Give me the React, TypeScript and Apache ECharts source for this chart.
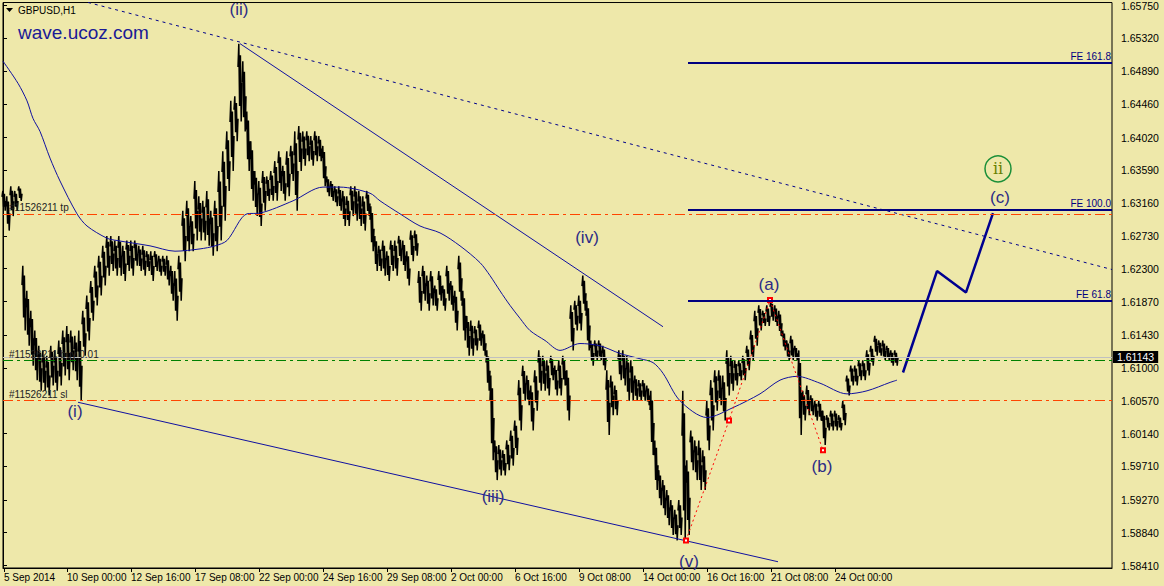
import React, { useEffect, useRef } from "react";
import * as echarts from "echarts";

const BG = "#EEE8AA";
const FONT = "Liberation Sans, Arial, sans-serif";
const WAVE = "#2b2b85";
const NAVY = "#00008b";

// x axis: hour index (1 H1 bar per hour of trading)
const X_TICKS = [1, 64, 128, 192, 256, 320, 384, 448, 512, 576, 640, 704, 768, 832];
const X_LABELS = [
  "5 Sep 2014", "10 Sep 00:00", "12 Sep 16:00", "17 Sep 08:00", "22 Sep 00:00",
  "24 Sep 16:00", "29 Sep 08:00", "2 Oct 00:00", "6 Oct 16:00", "9 Oct 08:00",
  "14 Oct 00:00", "16 Oct 16:00", "21 Oct 08:00", "24 Oct 00:00",
];
const Y_TICKS = [
  1.6575, 1.6532, 1.6489, 1.6446, 1.6402, 1.6359, 1.6316, 1.6273, 1.623, 1.6187,
  1.6143, 1.61, 1.6057, 1.6014, 1.5971, 1.5927, 1.5884, 1.5841,
];

// aggregated price bars (every 4 hours), high and low
const BAR_START = 1;
const BAR_STEP = 4;
const HIGH = [
  1.6332, 1.6325, 1.6338, 1.6332, 1.6338, 1.6234, 1.6201, 1.6175,
  1.6149, 1.6129, 1.6123, 1.6116, 1.6129, 1.6123, 1.6136, 1.6149,
  1.6155, 1.6149, 1.6142, 1.6149, 1.6175, 1.6195, 1.6214, 1.6234,
  1.6247, 1.626, 1.6273, 1.6273, 1.6267, 1.6273, 1.626, 1.6267,
  1.6267, 1.6267, 1.626, 1.626, 1.6253, 1.6253, 1.6253, 1.6247,
  1.6247, 1.6247, 1.6234, 1.6227, 1.6247, 1.6306, 1.6319, 1.6299,
  1.6345, 1.6325, 1.6319, 1.6332, 1.6306, 1.6319, 1.6358, 1.6384,
  1.641, 1.645, 1.6456, 1.6525, 1.6502, 1.6436, 1.6397, 1.6358,
  1.6345, 1.6358, 1.6351, 1.6358, 1.6371, 1.6384, 1.6365, 1.6384,
  1.6391, 1.641, 1.6417, 1.641, 1.641, 1.6404, 1.641, 1.6404,
  1.6391, 1.6351, 1.6345, 1.6338, 1.6338, 1.6332, 1.6325, 1.6338,
  1.6338, 1.6332, 1.6325, 1.6332, 1.6312, 1.6273, 1.626, 1.6267,
  1.6253, 1.6267, 1.6267, 1.6273, 1.6267, 1.6253, 1.628, 1.628,
  1.6227, 1.6234, 1.6221, 1.6227, 1.6208, 1.6227, 1.6208, 1.6234,
  1.6214, 1.6201, 1.6247, 1.6201, 1.6168, 1.6162, 1.6155, 1.6162,
  1.6149, 1.6123, 1.609, 1.6005, 1.5999, 1.5992, 1.6005, 1.6018,
  1.6031, 1.6084, 1.6103, 1.609, 1.6077, 1.6097, 1.6123, 1.6116,
  1.611, 1.6116, 1.6103, 1.611, 1.6116, 1.6097, 1.6182, 1.6188,
  1.6195, 1.6221, 1.6188, 1.6136, 1.6136, 1.6136, 1.6129, 1.6097,
  1.609, 1.6077, 1.6123, 1.6123, 1.6116, 1.611, 1.609, 1.6084,
  1.6084, 1.6077, 1.607, 1.6005, 1.5966, 1.5953, 1.594, 1.5927,
  1.5914, 1.5927, 1.607, 1.5979, 1.6018, 1.6005, 1.6005, 1.5992,
  1.6057, 1.6084, 1.6097, 1.6097, 1.609, 1.6123, 1.6116, 1.611,
  1.611, 1.6116, 1.6129, 1.6149, 1.6175, 1.6182, 1.6175, 1.6182,
  1.6188, 1.6182, 1.6175, 1.6149, 1.6136, 1.6142, 1.6129, 1.6123,
  1.607, 1.6077, 1.6064, 1.6057, 1.6057, 1.6044, 1.6038, 1.6044,
  1.6044, 1.6038, 1.6057, 1.609, 1.6103, 1.6103, 1.611, 1.611,
  1.6123, 1.6129, 1.6142, 1.6136, 1.6136, 1.6129, 1.6123, 1.6123,
];
const LOW = [
  1.6306, 1.628, 1.6299, 1.6306, 1.6319, 1.6149, 1.6129, 1.6103,
  1.6084, 1.607, 1.607, 1.6064, 1.6077, 1.607, 1.6077, 1.609,
  1.6084, 1.6097, 1.6084, 1.6057, 1.6116, 1.6136, 1.6162, 1.6182,
  1.6195, 1.6208, 1.6221, 1.6227, 1.6221, 1.6221, 1.6214, 1.6227,
  1.6221, 1.6234, 1.6227, 1.6221, 1.6227, 1.6214, 1.6227, 1.6221,
  1.6221, 1.6208, 1.6188, 1.6162, 1.6188, 1.624, 1.6253, 1.6253,
  1.6267, 1.6267, 1.6267, 1.626, 1.6247, 1.6253, 1.6267, 1.6293,
  1.6332, 1.6358, 1.6397, 1.6423, 1.641, 1.6358, 1.6319, 1.6299,
  1.6286, 1.6306, 1.6319, 1.6319, 1.6319, 1.6332, 1.6319, 1.6325,
  1.6345, 1.6306, 1.6358, 1.6365, 1.6371, 1.6365, 1.6371, 1.6371,
  1.6338, 1.6325, 1.6319, 1.6312, 1.6306, 1.6286, 1.6286, 1.6299,
  1.6293, 1.6286, 1.628, 1.6299, 1.6253, 1.6227, 1.6227, 1.6221,
  1.6214, 1.6227, 1.6221, 1.624, 1.6227, 1.6208, 1.624, 1.6247,
  1.6175, 1.6188, 1.6175, 1.6182, 1.6175, 1.6188, 1.6175, 1.6188,
  1.6175, 1.6149, 1.6188, 1.6136, 1.6116, 1.6116, 1.6123, 1.6129,
  1.6116, 1.607, 1.5979, 1.5953, 1.5959, 1.5959, 1.5966, 1.5972,
  1.5986, 1.6018, 1.6057, 1.6051, 1.6018, 1.6044, 1.607, 1.607,
  1.6064, 1.6084, 1.6064, 1.6064, 1.6077, 1.6031, 1.6123, 1.6149,
  1.6149, 1.6175, 1.6123, 1.6103, 1.611, 1.611, 1.6097, 1.6012,
  1.6038, 1.6038, 1.6084, 1.6077, 1.6057, 1.6057, 1.6057, 1.6057,
  1.6057, 1.6051, 1.5986, 1.594, 1.592, 1.5907, 1.5894, 1.5881,
  1.5874, 1.5881, 1.5874, 1.5881, 1.5966, 1.5953, 1.594, 1.594,
  1.5992, 1.6018, 1.6044, 1.6051, 1.6031, 1.6064, 1.607, 1.6077,
  1.6084, 1.6084, 1.6097, 1.611, 1.6129, 1.6149, 1.6155, 1.6155,
  1.6162, 1.6155, 1.6142, 1.6123, 1.611, 1.611, 1.611, 1.6012,
  1.6031, 1.6038, 1.6038, 1.6031, 1.6031, 1.5999, 1.6018, 1.6018,
  1.6018, 1.6018, 1.6025, 1.6064, 1.6077, 1.6077, 1.6084, 1.6084,
  1.609, 1.6103, 1.6116, 1.6116, 1.611, 1.611, 1.6103, 1.6103,
];

// moving average [hour, price]
const MA = [
  [0, 1.6502], [15, 1.6473], [24, 1.645], [30, 1.6427], [37, 1.641], [47, 1.6375],
  [57, 1.6345], [74, 1.6302], [84, 1.6286], [104, 1.627], [114, 1.6267], [147, 1.626],
  [172, 1.6253], [197, 1.6256], [212, 1.626], [224, 1.6267], [244, 1.6302], [257, 1.6303],
  [290, 1.6319], [320, 1.6337], [337, 1.6337], [367, 1.6329], [377, 1.6319], [397, 1.6302],
  [417, 1.6286], [437, 1.6277], [457, 1.626], [477, 1.6238], [487, 1.6221], [497, 1.6201],
  [507, 1.6182], [517, 1.6165], [527, 1.6149], [542, 1.6136], [557, 1.6123], [577, 1.6132],
  [597, 1.6129], [617, 1.6119], [637, 1.6112], [650, 1.6107], [660, 1.6093], [677, 1.6057],
  [704, 1.6035], [730, 1.6048], [757, 1.6066], [777, 1.6084], [794, 1.6089], [817, 1.608],
  [844, 1.6066], [864, 1.607], [887, 1.6081], [894, 1.6084],
];

const TREND_DOTTED = [[85, 1.6579], [1109, 1.6229]];
const TREND_UPPER = [[237, 1.6525], [660, 1.6154]];
const TREND_LOWER = [[75, 1.6055], [775, 1.5846]];
const PROJECTION = [[900, 1.6094], [934, 1.6227], [963, 1.6199], [990, 1.6303]];
const RED_PATH = [[683, 1.5874], [726, 1.6031], [767, 1.6189], [820, 1.5992]];

const FE_START = 685;
const FE_END = 1109;
const FE_LEVELS = [1.65, 1.6307, 1.6188];
const FE_NAMES = ["FE 161.8", "FE 100.0", "FE 61.8"];

const TP = 1.6302;
const BUY = 1.611;
const SL = 1.6057;
const BID = 1.61143;

const WAVE_LABELS: [number, number, string][] = [
  [236, 1.657, "(ii)"],
  [72, 1.6043, "(i)"],
  [490, 1.5931, "(iii)"],
  [584, 1.6271, "(iv)"],
  [686, 1.5846, "(v)"],
  [766, 1.6209, "(a)"],
  [819, 1.5971, "(b)"],
  [997, 1.6323, "(c)"],
];
const CIRCLED = [[995, 1.6361, "ii"]];

export default function App() {
  const ref = useRef<HTMLDivElement>(null);
  useEffect(() => {
    document.body.style.margin = "0";
    document.body.style.background = BG;
    const chart = echarts.init(ref.current!, null, { renderer: "svg" });
    const bars = HIGH.map((h, k) => [BAR_START + k * BAR_STEP, h, LOW[k]]);
    const hline = (v: number, color: string, dash: any, text: string) => ({
      yAxis: v,
      lineStyle: { color, type: dash, width: 1 },
      label: {
        show: true,
        formatter: text,
        position: "insideStartTop",
        distance: [6, 1],
        color: "#222",
        fontSize: 10,
        fontFamily: FONT,
      },
    });
    const option: any = {
      animation: false,
      backgroundColor: BG,
      grid: {
        left: 3, right: 52, top: 1, bottom: 18,
        show: true, borderColor: "#000", borderWidth: 1, backgroundColor: BG,
      },
      xAxis: {
        type: "value", min: 0, max: 1109,
        axisLine: { show: true, lineStyle: { color: "#000" } },
        axisTick: { show: true, customValues: X_TICKS, length: 4, lineStyle: { color: "#000" } },
        axisLabel: {
          customValues: X_TICKS,
          formatter: (v: number) => X_LABELS[X_TICKS.indexOf(v)] ?? "",
          align: "left", margin: 4, color: "#000", fontSize: 10, fontFamily: FONT,
        },
        splitLine: { show: false },
      },
      yAxis: {
        type: "value", position: "right", min: 1.58378, max: 1.65789, scale: true,
        axisLine: { show: true, lineStyle: { color: "#000" } },
        axisTick: { show: true, customValues: Y_TICKS, length: 4, lineStyle: { color: "#000" } },
        axisLabel: {
          customValues: Y_TICKS,
          formatter: (v: number) => v.toFixed(5),
          margin: 9, color: "#000", fontSize: 10.5, fontFamily: FONT,
        },
        splitLine: { show: false },
      },
      graphic: [
        { type: "polygon", shape: { points: [[6, 8], [13, 8], [9.5, 12]] }, style: { fill: "#000" } },
        { type: "text", left: 18, top: 5, style: { text: "GBPUSD,H1", fill: "#000", font: `10px ${FONT}` } },
        {
          type: "text", left: 18, top: 23,
          style: {
            text: "wave.ucoz.com", fill: "#1a1a96", font: `19px ${FONT}`,
            textShadowColor: "#a0a0a0", textShadowOffsetX: 2, textShadowOffsetY: 2, textShadowBlur: 0,
          },
        },
      ],
      series: [
        {
          type: "line", data: [], z: 1, silent: true,
          markLine: {
            symbol: "none", silent: true, animation: false, precision: 5,
            data: [
              hline(TP, "#ff4500", [10, 4, 3, 4], "#11526211 tp"),
              hline(BUY, "#008000", [10, 4, 3, 4], "#11526211 buy 0.01"),
              hline(SL, "#ff4500", [10, 4, 3, 4], "#11526211 sl"),
              {
                yAxis: BID,
                lineStyle: { color: "#c0c0c0", type: "solid", width: 1 },
                label: {
                  show: true, position: "end", distance: 1, formatter: BID.toFixed(5),
                  backgroundColor: "#000", color: "#fff", padding: [1, 4, 0, 4],
                  fontSize: 10.5, fontFamily: FONT,
                },
              },
            ],
          },
        },
        {
          type: "custom", z: 2, silent: true, data: bars,
          encode: { x: 0, y: [1, 2] },
          renderItem: (params: any, api: any) => {
            const x = api.value(0);
            const p1 = api.coord([x, api.value(1)]);
            const p2 = api.coord([x, api.value(2)]);
            const h = p2[1] - p1[1];
            return {
              type: "polyline",
              shape: {
                points: [
                  [p1[0] - 2, p1[1] + h * 0.3],
                  [p1[0] - 1.2, p1[1]],
                  [p1[0] - 0.4, p2[1] - h * 0.2],
                  [p1[0] + 0.4, p1[1] + h * 0.15],
                  [p1[0] + 1.2, p2[1]],
                  [p1[0] + 2, p1[1] + h * 0.5],
                ],
              },
              style: { stroke: "#000", lineWidth: 1.5, fill: null },
            };
          },
        },
        {
          type: "line", data: MA, z: 3, symbol: "none", smooth: 0.3, silent: true,
          lineStyle: { color: "#1010a0", width: 1 },
        },
        {
          type: "line", data: TREND_DOTTED, z: 3, symbol: "none", silent: true,
          lineStyle: { color: NAVY, width: 1, type: [3, 4] },
        },
        {
          type: "line", data: TREND_UPPER, z: 3, symbol: "none", silent: true,
          lineStyle: { color: "#1010a0", width: 1 },
        },
        {
          type: "line", data: TREND_LOWER, z: 3, symbol: "none", silent: true,
          lineStyle: { color: "#1010a0", width: 1 },
        },
        {
          type: "line", data: [], z: 3, silent: true,
          markLine: {
            symbol: "none", silent: true, precision: 5,
            data: FE_LEVELS.map((v, k) => [
              {
                coord: [FE_START, v],
                lineStyle: { color: "#000080", width: 2, type: "solid" },
                label: {
                  show: true, position: "insideEndTop", formatter: FE_NAMES[k], distance: [1, 1],
                  color: "#000080", fontSize: 10, fontFamily: FONT,
                },
              },
              { coord: [FE_END, v] },
            ]),
          },
        },
        {
          type: "line", data: PROJECTION, z: 4, symbol: "none", silent: true,
          lineStyle: { color: "#000090", width: 2.5 },
        },
        {
          type: "line", data: RED_PATH, z: 4, symbol: "emptyRect", symbolSize: 4, silent: true,
          lineStyle: { color: "#ff0000", width: 1, type: [2, 3] },
          itemStyle: { color: "#ff0000", borderColor: "#ff0000" },
        },
        {
          type: "scatter", data: WAVE_LABELS, z: 5, symbolSize: 1, silent: true,
          itemStyle: { color: "rgba(0,0,0,0)", opacity: 1 },
          label: {
            show: true, position: "inside", formatter: (p: any) => p.data[2],
            color: WAVE, fontSize: 17, fontFamily: FONT, opacity: 1,
          },
        },
        {
          type: "scatter", data: CIRCLED, z: 5, symbol: "circle", symbolSize: 26, silent: true,
          itemStyle: { color: "rgba(0,0,0,0)", borderColor: "#1a8f38", borderWidth: 1.5, opacity: 1 },
          label: {
            show: true, position: "inside", formatter: (p: any) => p.data[2],
            color: "#6a7f00", fontSize: 16, fontFamily: "DejaVu Serif, serif", opacity: 1,
          },
        },
      ],
    };
    chart.setOption(option);
    return () => chart.dispose();
  }, []);
  return <div ref={ref} style={{ width: 1164, height: 586, background: BG }} />;
}
